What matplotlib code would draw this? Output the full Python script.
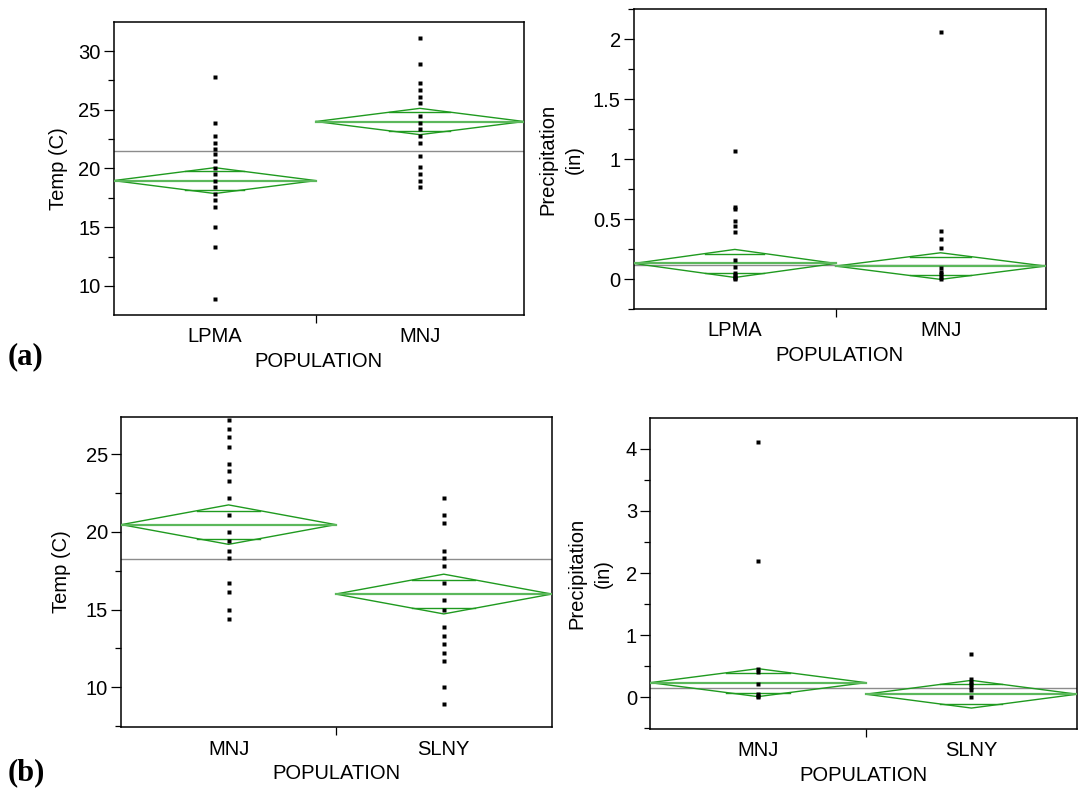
#!/usr/bin/env python3

import numpy as np
import matplotlib
matplotlib.use("Agg")
import matplotlib.pyplot as plt
from matplotlib.ticker import MultipleLocator, FormatStrFormatter

plt.rcParams['font.family'] = ['Liberation Sans', 'DejaVu Sans']
plt.rcParams['font.size'] = 14.5

W, H = 1078, 788

# (a) temperature
a_temp_cats = ["LPMA", "MNJ"]
a_temp_lpma = [27.8, 23.9, 22.8, 22.2, 21.7, 21.2, 20.6, 20.0, 19.5, 18.9,
               18.4, 17.8, 17.3, 16.7, 15.0, 13.3, 8.9]
a_temp_mnj = [31.1, 28.9, 27.3, 26.7, 26.1, 25.6, 24.5, 23.9, 23.4, 22.8,
              22.2, 21.1, 20.1, 19.5, 18.9, 18.4]
a_temp_means = [18.97, 24.0]
a_temp_halfs = [1.1, 1.12]
a_temp_grand = 21.5

# (a) precipitation
a_prec_cats = ["LPMA", "MNJ"]
a_prec_lpma = [1.07, 0.60, 0.58, 0.48, 0.44, 0.39, 0.16, 0.10, 0.05, 0.03,
               0.02, 0.01, 0.0]
a_prec_mnj = [2.06, 0.40, 0.33, 0.26, 0.09, 0.06, 0.04, 0.02, 0.0]
a_prec_means = [0.13, 0.108]
a_prec_halfs = [0.117, 0.111]
a_prec_grand = 0.117

# (b) temperature
b_temp_cats = ["MNJ", "SLNY"]
b_temp_mnj = [27.2, 26.6, 26.1, 25.5, 24.4, 23.9, 23.3, 22.2, 21.1, 20.0,
              19.4, 18.8, 18.3, 16.7, 16.1, 15.0, 14.4]
b_temp_slny = [22.2, 21.1, 20.6, 18.8, 18.3, 17.8, 16.7, 15.6, 15.0, 13.9,
               13.3, 12.8, 12.2, 11.7, 10.0, 8.9]
b_temp_means = [20.47, 16.0]
b_temp_halfs = [1.27, 1.28]
b_temp_grand = 18.24

# (b) precipitation
b_prec_cats = ["MNJ", "SLNY"]
b_prec_mnj = [4.11, 2.20, 0.45, 0.41, 0.22, 0.05, 0.02, 0.0]
b_prec_slny = [0.69, 0.29, 0.25, 0.21, 0.17, 0.12, 0.01]
b_prec_means = [0.236, 0.05]
b_prec_halfs = [0.225, 0.223]
b_prec_grand = 0.145

GREEN = '#1f9a1f'
MEANC = '#5cb85c'


def rect(x0, y0, x1, y1):
    return [x0 / W, 1 - y1 / H, (x1 - x0) / W, (y1 - y0) / H]


def diamond(ax, x0, x1, mean, half):
    c = (x0 + x1) / 2
    ax.plot([x0, c, x1, c, x0], [mean, mean + half, mean, mean - half, mean],
            color=GREEN, lw=1.0, zorder=3)
    ax.plot([x0, x1], [mean, mean], color=MEANC, lw=1.6, zorder=3)
    k = half / np.sqrt(2)
    hw = (x1 - x0) / 2 * (1 - k / half)
    for s in (1, -1):
        ax.plot([c - hw, c + hw], [mean + s * k] * 2, color=GREEN, lw=1.0,
                zorder=3)


def panel(box, cats, groups, means, halfs, grand, div, ylim, major, ylabel,
          ylab_x):
    ax = fig.add_axes(rect(*box))
    ax.set_xlim(0, 1)
    ax.set_ylim(*ylim)
    ax.axhline(grand, color='#8c8c8c', lw=1.0, zorder=2)
    spans = [(0, div), (div, 1)]
    centers = [(a + b) / 2 for a, b in spans]
    for (x0, x1), m, h in zip(spans, means, halfs):
        diamond(ax, x0, x1, m, h)
    for c, vals in zip(centers, groups):
        ax.plot([c] * len(vals), vals, 's', color='black', ms=2.3,
                mec='none', zorder=4)
    ax.set_xticks(centers, cats)
    ax.set_xticks([div], minor=True)
    ax.tick_params(axis='x', which='major', length=0, pad=9)
    ax.tick_params(axis='x', which='minor', length=6, width=0.9,
                   direction='out')
    ax.yaxis.set_major_locator(MultipleLocator(major))
    ax.yaxis.set_minor_locator(MultipleLocator(major / 2))
    ax.yaxis.set_major_formatter(FormatStrFormatter('%g'))
    ax.tick_params(axis='y', which='major', length=7, width=0.9, pad=2.5)
    ax.tick_params(axis='y', which='minor', length=4.5, width=0.9)
    for sp in ax.spines.values():
        sp.set_linewidth(1.1)
    ax.set_xlabel("POPULATION", labelpad=4)
    bx = box[2] - box[0]
    ax.set_ylabel(ylabel, va='center', linespacing=1.45)
    ax.yaxis.set_label_coords((ylab_x - box[0]) / bx, 0.5)
    return ax


fig = plt.figure(figsize=(W / 100, H / 100), dpi=100)

panel((113.6, 22, 524, 315), a_temp_cats, [a_temp_lpma, a_temp_mnj],
      a_temp_means, a_temp_halfs, a_temp_grand, 0.493, (7.53, 32.47), 5,
      "Temp (C)", 59)
panel((634, 9.3, 1045.5, 309), a_prec_cats, [a_prec_lpma, a_prec_mnj],
      a_prec_means, a_prec_halfs, a_prec_grand, 0.49, (-0.25, 2.25), 0.5,
      "Precipitation\n(in)", 561)
panel((121.4, 416.7, 551.8, 727.3), b_temp_cats, [b_temp_mnj, b_temp_slny],
      b_temp_means, b_temp_halfs, b_temp_grand, 0.498, (7.42, 27.42), 5,
      "Temp (C)", 62)
panel((650.3, 418.3, 1077, 729), b_prec_cats, [b_prec_mnj, b_prec_slny],
      b_prec_means, b_prec_halfs, b_prec_grand, 0.505, (-0.51, 4.49), 1,
      "Precipitation\n(in)", 590)

fig.text(8 / W, 1 - 357 / H, "(a)", family=['Liberation Serif', 'DejaVu Serif'],
         weight='bold', fontsize=22, va='center', ha='left')
fig.text(8 / W, 1 - 773 / H, "(b)", family=['Liberation Serif', 'DejaVu Serif'],
         weight='bold', fontsize=22, va='center', ha='left')

fig.savefig("out.png", dpi=100)
